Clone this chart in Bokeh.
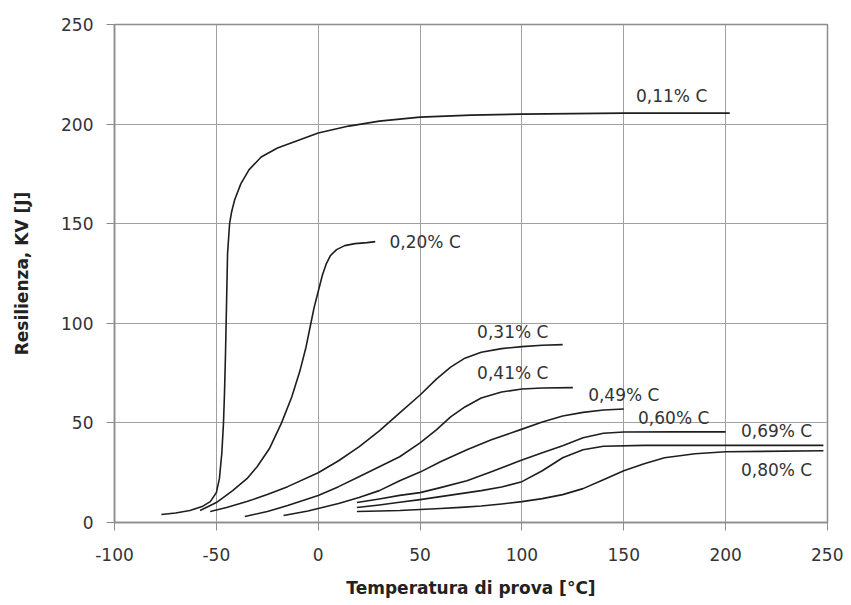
from bokeh.plotting import figure
from bokeh.models import ColumnDataSource, Range1d, FixedTicker
from bokeh.core.properties import value
from bokeh.embed import file_html
from bokeh.resources import INLINE

# ---- data ----
c011_x = [-77, -70, -63, -57, -53, -50, -48.5, -47.3, -46.5, -46, -45.5, -45, -44.5, -43.5, -42.5, -41, -38, -34, -28, -20, -12, 0, 15, 30, 50, 75, 100, 150, 202]
c011_y = [4, 4.8, 6, 8, 10.5, 15, 22, 35, 50, 65, 85, 110, 135, 150, 156, 162, 170, 177, 183.5, 188, 191, 195.5, 199, 201.5, 203.5, 204.5, 205, 205.5, 205.5]

c020_x = [-58, -50, -42, -35, -30, -24, -18, -13, -9, -6, -4, -2, 0, 2, 4, 6, 9, 13, 18, 24, 28]
c020_y = [6, 10, 16, 22, 28, 37, 50, 63, 76, 88, 98, 108, 116, 124, 130, 134, 137, 139, 140, 140.5, 141]

c031_x = [-53, -45, -35, -25, -15, 0, 10, 20, 30, 40, 50, 58, 65, 72, 80, 90, 100, 110, 120]
c031_y = [5.5, 7.5, 10.5, 14, 18, 25, 31, 38, 46, 55, 64, 72, 78, 82.5, 85.5, 87.3, 88.3, 89, 89.3]

c041_x = [-36, -25, -15, 0, 10, 20, 30, 40, 50, 58, 65, 72, 80, 90, 100, 110, 125]
c041_y = [3, 5.5, 8.5, 13.6, 18, 23, 28, 33, 40, 46.5, 53, 58, 62.5, 65.5, 67, 67.5, 67.7]

c049_x = [-17, -5, 0, 10, 20, 30, 40, 50, 60, 73, 85, 99, 110, 120, 130, 140, 150]
c049_y = [3.5, 5.8, 7, 9.5, 12.5, 16, 21, 25.3, 30.5, 36.5, 41.5, 46.5, 50.5, 53.5, 55.3, 56.5, 57]

c060_x = [19, 30, 40, 50, 60, 73, 85, 99, 110, 120, 130, 140, 150, 175, 200]
c060_y = [10, 11.8, 13.6, 15, 17.5, 21, 25.5, 31, 35, 38.5, 42.5, 44.8, 45.4, 45.5, 45.5]

c069_x = [19, 30, 40, 50, 60, 70, 80, 90, 100, 110, 120, 130, 140, 160, 200, 248]
c069_y = [7.5, 8.8, 10.2, 11.5, 13, 14.5, 16, 17.8, 20.5, 26, 32.5, 36.5, 38.3, 38.7, 38.7, 38.7]

c080_x = [19, 30, 40, 50, 60, 70, 80, 90, 100, 110, 120, 130, 140, 150, 160, 170, 185, 200, 248]
c080_y = [5.5, 5.8, 6, 6.5, 7, 7.6, 8.3, 9.3, 10.5, 12, 14, 17, 21.5, 26, 29.5, 32.5, 34.5, 35.5, 36]

label_text = ["0,11% C", "0,20% C", "0,31% C", "0,41% C", "0,49% C", "0,60% C", "0,69% C", "0,80% C"]
label_x = [156, 35, 78, 78, 132.5, 157, 207.5, 207.5]
label_y = [214, 140.7, 95.6, 75, 64, 52.6, 45.7, 26.5]

x_ticks = [-100, -50, 0, 50, 100, 150, 200, 250]
x_tick_labels = ["-100", "-50", "0", "50", "100", "150", "200", "250"]
y_ticks = [0, 50, 100, 150, 200, 250]

# ---- figure ----
p = figure(width=843, height=603, output_backend="svg", toolbar_location=None,
           x_range=Range1d(-100, 250), y_range=Range1d(0, 250),
           min_border_left=114, min_border_right=16, min_border_top=24, min_border_bottom=81)
p.background_fill_color = "white"
p.border_fill_color = "white"
p.outline_line_color = "#8c8c8c"
p.outline_line_width = 1.5

for ax in (p.xaxis, p.yaxis):
    ax.axis_line_color = "#8c8c8c"
    ax.axis_line_width = 1.5
    ax.major_tick_line_color = "#8c8c8c"
    ax.major_tick_out = 8
    ax.major_tick_in = 0
    ax.minor_tick_line_color = None
    ax.major_label_text_font = "DejaVu Sans"
    ax.major_label_text_font_size = "17px"
    ax.major_label_text_color = "#333333"
    ax.axis_label_text_font = "DejaVu Sans"
    ax.axis_label_text_font_style = "bold"
    ax.axis_label_text_font_size = "17px"
    ax.axis_label_text_color = "#222222"

p.xaxis.ticker = FixedTicker(ticks=x_ticks)
p.xaxis.major_label_overrides = {t: s for t, s in zip(x_ticks, x_tick_labels)}
p.yaxis.ticker = FixedTicker(ticks=y_ticks)
p.xaxis.major_label_standoff = 17
p.yaxis.major_label_standoff = 13
p.xaxis.axis_label = "Temperatura di prova [°C]"
p.yaxis.axis_label = "Resilienza, KV [J]"
p.xaxis.axis_label_standoff = 14
p.yaxis.axis_label_standoff = 26

p.xgrid.grid_line_color = "#a0a0a0"
p.ygrid.grid_line_color = "#a0a0a0"
p.xgrid.grid_line_width = 1
p.ygrid.grid_line_width = 1

curves = [(c011_x, c011_y), (c020_x, c020_y), (c031_x, c031_y), (c041_x, c041_y),
          (c049_x, c049_y), (c060_x, c060_y), (c069_x, c069_y), (c080_x, c080_y)]
for cx, cy in curves:
    p.line(cx, cy, line_color="#1e1e1e", line_width=1.6, line_join="round")

src = ColumnDataSource(dict(x=label_x, y=label_y, t=label_text))
p.text(x="x", y="y", text="t", source=src, text_font=value("DejaVu Sans"),
       text_font_size="17px", text_color="#333333", text_align="left", text_baseline="middle")

open("out.html", "w").write(file_html(p, INLINE))
